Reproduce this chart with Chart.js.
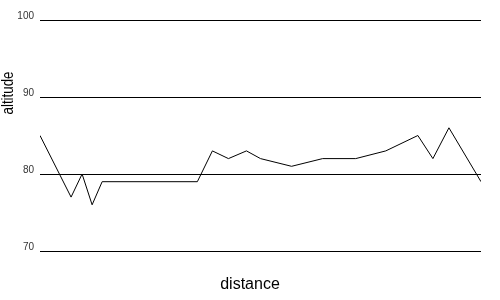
<!DOCTYPE html>
<html>
<head>
<meta charset="utf-8">
<script src="https://cdn.jsdelivr.net/npm/chart.js@4/dist/chart.umd.min.js"></script>
<style>
  body { margin: 0; background: #fff; }
  #box { width: 500px; height: 300px; }
</style>
</head>
<body>
<div id="box"><canvas id="chart" width="500" height="300"></canvas></div>
<script>
const distances = [0, 3.1, 4.2, 5.2, 6.2, 15.7, 17.2, 18.8, 20.6, 22, 25.1, 28.2, 31.5, 34.5, 37.7, 39.2, 40.8, 44];
const altitudes = [85, 77, 80, 76, 79, 79, 83, 82, 83, 82, 81, 82, 82, 83, 85, 82, 86, 79];
const yTicks = [70, 80, 90, 100];
const xTitle = "distance";
const yTitle = "altitude";

const points = distances.map((d, i) => ({ x: d, y: altitudes[i] }));

// axis titles sit relative to the canvas, not the plot area
const titles = {
    id: 'titles',
    afterDraw(chart) {
        const ctx = chart.ctx;
        ctx.save();
        ctx.fillStyle = "#000";
        ctx.font = "16px 'Liberation Sans'";
        ctx.textAlign = "center";
        ctx.textBaseline = "middle";
        ctx.fillText(xTitle, 250, 285);
        ctx.translate(9, 93);
        ctx.rotate(-Math.PI / 2);
        ctx.fillText(yTitle, 0, 0, 43);
        ctx.restore();
    }
};

const context = document.getElementById("chart").getContext("2d");
const line = new Chart(context, {
    type: 'line',
    data: {
        datasets: [{
            data: points,
            borderColor: "#000",
            borderWidth: 1,
            pointRadius: 0,
            tension: 0,
            fill: false
        }]
    },
    options: {
        responsive: false,
        animation: false,
        layout: { padding: { top: 20, right: 19, bottom: 41, left: 0 } },
        plugins: { legend: { display: false }, tooltip: { enabled: false } },
        scales: {
            x: {
                type: 'linear',
                min: distances[0],
                max: distances[distances.length - 1],
                grid: { display: false },
                border: { display: false },
                ticks: { display: false }
            },
            y: {
                min: yTicks[0],
                max: yTicks[yTicks.length - 1],
                afterBuildTicks: (axis) => { axis.ticks = yTicks.map(v => ({ value: v })); },
                afterFit: (axis) => { axis.width = 40; },
                grid: { color: "#000", lineWidth: 1, drawTicks: false },
                border: { display: false },
                ticks: {
                    color: "#333",
                    padding: 6,
                    labelOffset: -4,
                    font: { family: "Liberation Sans", size: 10 }
                }
            }
        }
    },
    plugins: [titles]
});
</script>
</body>
</html>
